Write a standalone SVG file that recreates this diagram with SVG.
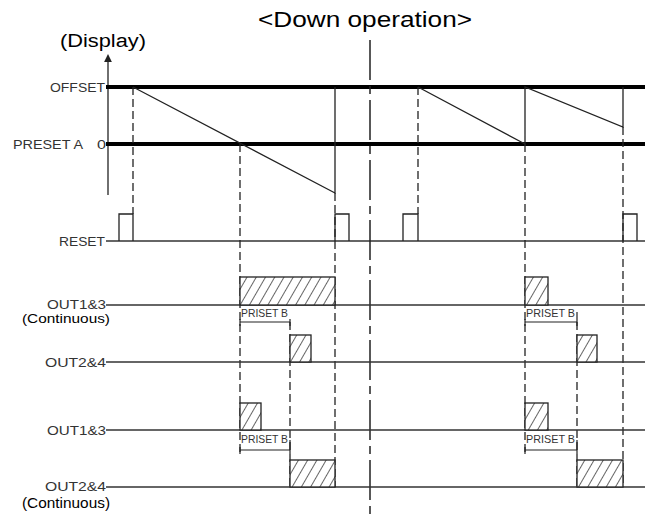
<svg xmlns="http://www.w3.org/2000/svg" width="653" height="519" viewBox="0 0 653 519">
<style>
.bg{fill:#fff}
.thick{stroke:#000;stroke-width:4;fill:none}
.thin{stroke:#222;stroke-width:1.3;fill:none}
.sig{stroke:#333;stroke-width:1.3;fill:none}
.dash{stroke:#222;stroke-width:1.3;fill:none;stroke-dasharray:8 4}
.center{stroke:#222;stroke-width:1.5;fill:none;stroke-dasharray:40 6 8 6}
.box{fill:url(#hatch);stroke:#222;stroke-width:1.3}
.lbl{font-family:"Liberation Sans",Arial,sans-serif;font-size:13px;fill:#333}
.small{font-family:"Liberation Sans",Arial,sans-serif;font-size:11px;fill:#333}
.cap{font-family:"Liberation Sans",Arial,sans-serif;fill:#000}
.tick{stroke:#222;stroke-width:1.2}
</style>
<defs>
<pattern id="hatch" patternUnits="userSpaceOnUse" width="8" height="8" patternTransform="rotate(30)">
<rect width="8" height="8" fill="#fff"/>
<line x1="0" y1="0" x2="0" y2="8" stroke="#333" stroke-width="1.5"/>
</pattern>
<marker id="axarrow" markerWidth="6" markerHeight="6" refX="3" refY="3" orient="auto">
<path d="M0,0 L6,3 L0,6 Z" fill="#222"/>
</marker>
</defs>
<rect class="bg" x="0" y="0" width="653" height="519"/>

<g id="title">
<text class="cap" x="258" y="27" font-size="22" textLength="214" lengthAdjust="spacingAndGlyphs">&lt;Down operation&gt;</text>
<text class="cap" x="60" y="47" font-size="18" textLength="86" lengthAdjust="spacingAndGlyphs">(Display)</text>
</g>

<g id="axis">
<line class="thin" x1="108" y1="195" x2="108" y2="58" marker-end="url(#axarrow)"/>
</g>

<g id="labels">
<text class="lbl" x="50" y="92" textLength="55" lengthAdjust="spacingAndGlyphs">OFFSET</text>
<text class="lbl" x="13" y="149" textLength="70" lengthAdjust="spacingAndGlyphs">PRESET A</text>
<text class="lbl" x="97" y="149" textLength="9" lengthAdjust="spacingAndGlyphs">0</text>
<text class="lbl" x="59" y="246" textLength="46" lengthAdjust="spacingAndGlyphs">RESET</text>
<text class="lbl" x="47" y="309" textLength="59" lengthAdjust="spacingAndGlyphs">OUT1&amp;3</text>
<text class="cap" x="22" y="323" font-size="13" textLength="88" lengthAdjust="spacingAndGlyphs">(Continuous)</text>
<text class="lbl" x="45" y="367" textLength="61" lengthAdjust="spacingAndGlyphs">OUT2&amp;4</text>
<text class="lbl" x="47" y="435" textLength="59" lengthAdjust="spacingAndGlyphs">OUT1&amp;3</text>
<text class="lbl" x="45" y="491" textLength="61" lengthAdjust="spacingAndGlyphs">OUT2&amp;4</text>
<text class="cap" x="22" y="508" font-size="14" textLength="88" lengthAdjust="spacingAndGlyphs">(Continuous)</text>
</g>

<g id="levels">
<line class="thick" x1="106" y1="87" x2="645" y2="87"/>
<line class="thick" x1="106" y1="144" x2="645" y2="144"/>
</g>

<g id="count">
<polyline class="thin" points="133,87 335,193 335,87"/>
<polyline class="thin" points="418,87 525,144 525,87 623,127 623,87"/>
</g>

<g id="reset">
<line class="sig" x1="106" y1="241" x2="645" y2="241"/>
<polyline class="thin" points="119,241 119,214 133,214 133,241"/>
<polyline class="thin" points="335,241 335,214 349,214 349,241"/>
<polyline class="thin" points="403,241 403,214 418,214 418,241"/>
<polyline class="thin" points="623,241 623,214 637,214 637,241"/>
</g>

<g id="connectors">
<line class="dash" x1="133" y1="87" x2="133" y2="214"/>
<line class="dash" x1="240" y1="144" x2="240" y2="455"/>
<line class="dash" x1="290" y1="322" x2="290" y2="487"/>
<line class="dash" x1="335" y1="193" x2="335" y2="487"/>
<line class="center" x1="370" y1="40" x2="370" y2="519"/>
<line class="dash" x1="418" y1="87" x2="418" y2="214"/>
<line class="dash" x1="525" y1="144" x2="525" y2="455"/>
<line class="dash" x1="577" y1="322" x2="577" y2="487"/>
<line class="dash" x1="623" y1="127" x2="623" y2="487"/>
</g>

<g id="outputs">
<line class="sig" x1="106" y1="305" x2="645" y2="305"/>
<line class="sig" x1="106" y1="362" x2="645" y2="362"/>
<line class="sig" x1="106" y1="430" x2="645" y2="430"/>
<line class="sig" x1="106" y1="487" x2="645" y2="487"/>
<rect class="box" x="240" y="277" width="95" height="28"/>
<rect class="box" x="290" y="335" width="21" height="27"/>
<rect class="box" x="240" y="403" width="21" height="27"/>
<rect class="box" x="290" y="460" width="45" height="27"/>
<rect class="box" x="525" y="277" width="23" height="28"/>
<rect class="box" x="577" y="335" width="20" height="27"/>
<rect class="box" x="525" y="403" width="23" height="27"/>
<rect class="box" x="577" y="460" width="46" height="27"/>
</g>

<g id="presetB">
<text class="small" x="241" y="317" textLength="47" lengthAdjust="spacingAndGlyphs">PRISET B</text>
<line class="tick" x1="240" y1="322" x2="290" y2="322"/>
<line class="tick" x1="240" y1="319" x2="240" y2="326"/>
<line class="tick" x1="290" y1="319" x2="290" y2="326"/>
<text class="small" x="241" y="443" textLength="47" lengthAdjust="spacingAndGlyphs">PRISET B</text>
<line class="tick" x1="240" y1="450" x2="290" y2="450"/>
<line class="tick" x1="240" y1="447" x2="240" y2="454"/>
<line class="tick" x1="290" y1="440" x2="290" y2="454"/>
<text class="small" x="526" y="317" textLength="49" lengthAdjust="spacingAndGlyphs">PRISET B</text>
<line class="tick" x1="525" y1="322" x2="577" y2="322"/>
<line class="tick" x1="525" y1="319" x2="525" y2="326"/>
<line class="tick" x1="577" y1="312" x2="577" y2="326"/>
<text class="small" x="526" y="443" textLength="49" lengthAdjust="spacingAndGlyphs">PRISET B</text>
<line class="tick" x1="525" y1="450" x2="577" y2="450"/>
<line class="tick" x1="525" y1="447" x2="525" y2="454"/>
<line class="tick" x1="577" y1="440" x2="577" y2="454"/>
</g>
</svg>
